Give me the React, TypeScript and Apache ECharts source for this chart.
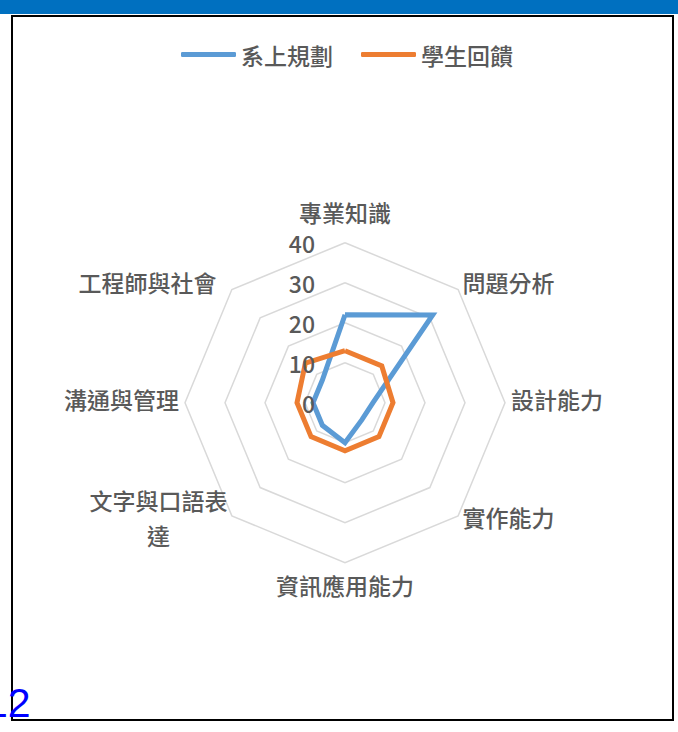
import React, { useEffect, useRef } from "react";
import * as echarts from "echarts";

// Data (indicators listed clockwise from the top, as in the picture)
const indicatorNames = [
  "專業知識",
  "問題分析",
  "設計能力",
  "實作能力",
  "資訊應用能力",
  "文字與口語表達",
  "溝通與管理",
  "工程師與社會",
];
const seriesNames = ["系上規劃", "學生回饋"];
const plannedValues = [22, 31, 7, 6, 10, 8, 8, 8];
const feedbackValues = [13, 13, 12, 12, 12, 12, 12, 14];
const axisMax = 40;
const axisInterval = 10;
const pageNumber = "12";

const FONT = "Noto Sans CJK TC, Noto Sans, sans-serif";
const TEXT_COLOR = "#595959";
const BLUE = "#5B9BD5";
const ORANGE = "#ED7D31";
const FS = 23;
const FW = 500;

// ECharts radar lays indicators counter-clockwise; reorder to get clockwise.
const toClockwise = <T,>(arr: T[]): T[] => [arr[0], ...arr.slice(1).reverse()];

export default function App() {
  const ref = useRef<HTMLDivElement>(null);

  useEffect(() => {
    if (!ref.current) return;
    const chart = echarts.init(ref.current, undefined, { renderer: "svg" });
    const cx = 345;
    const cy = 402.7;
    const radius = 160;

    const names = toClockwise(indicatorNames);
    const baseRich = { fontSize: FS, color: TEXT_COLOR, fontFamily: FONT, fontWeight: FW };

    chart.setOption({
      animation: false,
      backgroundColor: "#ffffff",
      textStyle: { fontFamily: FONT },
      legend: {
        data: seriesNames,
        left: 176,
        top: 38,
        itemWidth: 55,
        itemHeight: 5,
        itemGap: 28,
        icon: "roundRect",
        textStyle: { fontSize: FS, color: TEXT_COLOR, fontFamily: FONT, fontWeight: FW },
      },
      radar: {
        center: [cx, cy],
        radius: radius,
        startAngle: 90,
        splitNumber: axisMax / axisInterval,
        shape: "polygon",
        indicator: names.map((n) => ({ name: n, min: 0, max: axisMax })),
        axisName: {
          color: TEXT_COLOR,
          fontSize: FS,
          fontFamily: FONT,
          fontWeight: FW,
          formatter: (name: string) => {
            if (name === indicatorNames[0]) return `{top|${name}}`;
            if (name === indicatorNames[4]) return `{bottom|${name}}`;
            if (name === indicatorNames[7]) return `{w|${name}}`;
            if (name.length > 6) return `{c|${name.slice(0, 6)}}\n{c2|${name.slice(6)}}`;
            return `{n|${name}}`;
          },
          rich: {
            top: { ...baseRich, padding: [0, 0, 13, 0] },
            bottom: { ...baseRich, padding: [5, 0, 0, 0] },
            c: { ...baseRich, align: "center", lineHeight: 41 },
            c2: { ...baseRich, align: "center", lineHeight: 41, padding: [0, 0, 11, 0] },
            n: { ...baseRich, padding: [0, 0, 7, 0] },
            w: { ...baseRich, padding: [0, 11, 7, 0] },
          },
        },
        nameGap: 6,
        axisLine: { show: false },
        axisTick: { show: false },
        axisLabel: { show: false },
        splitArea: { show: false },
        splitLine: { lineStyle: { color: "#D9D9D9", width: 1.5 } },
      },
      grid: {
        left: cx,
        top: cy - radius,
        width: 10,
        height: radius,
        containLabel: false,
      },
      xAxis: { type: "value", show: false, min: 0, max: 1 },
      yAxis: {
        type: "value",
        min: 0,
        max: axisMax,
        interval: axisInterval,
        z: 10,
        axisLine: { show: false },
        axisTick: { show: false },
        splitLine: { show: false },
        axisLabel: {
          margin: 30,
          fontSize: FS,
          color: TEXT_COLOR,
          fontFamily: FONT,
          fontWeight: FW,
        },
      },
      graphic: [
        {
          type: "rect",
          shape: { x: 0, y: 0, width: 678, height: 14 },
          style: { fill: "#0070C0" },
          z: 0,
        },
        {
          type: "rect",
          shape: { x: 12, y: 16, width: 661, height: 704 },
          style: { fill: "none", stroke: "#000000", lineWidth: 2 },
          z: 0,
        },
        {
          type: "text",
          x: -15,
          y: 723,
          style: {
            text: pageNumber,
            fontSize: 41,
            fontFamily: "Liberation Sans, Arial, sans-serif",
            fill: "#0000FF",
            verticalAlign: "bottom",
          },
          z: 20,
        },
      ],
      series: [
        {
          type: "radar",
          symbol: "none",
          z: 3,
          data: [
            {
              name: seriesNames[0],
              value: toClockwise(plannedValues),
              lineStyle: { color: BLUE, width: 5, join: "miter" },
              itemStyle: { color: BLUE },
            },
            {
              name: seriesNames[1],
              value: toClockwise(feedbackValues),
              lineStyle: { color: ORANGE, width: 5, join: "miter" },
              itemStyle: { color: ORANGE },
            },
          ],
        },
      ],
    });

    return () => chart.dispose();
  }, []);

  return (
    <div
      ref={ref}
      style={{ position: "fixed", left: 0, top: 0, width: 678, height: 732 }}
    />
  );
}
